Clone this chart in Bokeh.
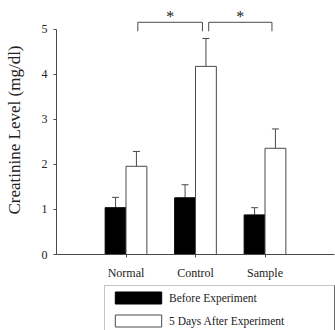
from bokeh.plotting import figure
from bokeh.layouts import column
from bokeh.models import (FactorRange, Range1d, FixedTicker, ColumnDataSource,
                          Whisker, TeeHead, Legend, LegendItem)
from bokeh.transform import dodge
from bokeh.core.properties import value
from bokeh.embed import file_html
from bokeh.resources import INLINE

# Serum creatinine (mg/dl), mean and upper SD per group
groups = ["Normal", "Control", "Sample"]
before = [1.04, 1.26, 0.88]
before_err = [0.23, 0.29, 0.16]
after = [1.96, 4.18, 2.36]
after_err = [0.33, 0.62, 0.43]
series_names = ["Before Experiment", "5 Days After Experiment"]
y_ticks = [0, 1, 2, 3, 4, 5]
# significant differences between groups (5 days after experiment)
sig_pairs = [("Normal", "Control"), ("Control", "Sample")]

FONT = "Liberation Serif"
TEXT = "#222222"
LINE = "#4a4a4a"
BAR_W = 0.3
BEFORE_STYLE = dict(fill_color="black", line_color="black", line_width=1)
AFTER_STYLE = dict(fill_color="white", line_color=LINE, line_width=1)

src = ColumnDataSource(dict(
    groups=groups,
    before=before,
    before_top=[b + e for b, e in zip(before, before_err)],
    after=after,
    after_top=[a + e for a, e in zip(after, after_err)],
))

p = figure(x_range=FactorRange(*groups, range_padding=0.5, range_padding_units="absolute"),
           y_range=Range1d(0, 5.533),
           width=335, height=285, output_backend="svg", toolbar_location=None,
           min_border_left=56, min_border_right=1, min_border_top=5, min_border_bottom=31)
p.outline_line_color = None
p.grid.grid_line_color = None

p.vbar(x=dodge("groups", -BAR_W / 2, range=p.x_range), top="before", width=BAR_W,
       source=src, **BEFORE_STYLE)
p.vbar(x=dodge("groups", BAR_W / 2, range=p.x_range), top="after", width=BAR_W,
       source=src, **AFTER_STYLE)

for off, lo, hi in [(-BAR_W / 2, "before", "before_top"), (BAR_W / 2, "after", "after_top")]:
    p.add_layout(Whisker(source=src, base=dodge("groups", off, range=p.x_range),
                         lower=lo, upper=hi, line_color=LINE, line_width=1,
                         upper_head=TeeHead(size=7, line_color=LINE, line_width=1),
                         lower_head=None))

# significance brackets above the "after" bars
pos = {g: i + 0.5 for i, g in enumerate(groups)}
seg_x0, seg_x1, seg_y0, seg_y1, sx = [], [], [], [], []
for i, (a, b) in enumerate(sig_pairs):
    x0 = pos[a] + BAR_W / 2 + (0.02 if i == 0 else 0.04)
    x1 = pos[b] + BAR_W / 2 - 0.05
    top, end = 5.16, 4.96
    seg_x0 += [x0, x0, x1]; seg_x1 += [x1, x0, x1]
    seg_y0 += [top, top, top]; seg_y1 += [top, end, end]
    sx.append((x0 + x1) / 2)
p.segment(x0=seg_x0, y0=seg_y0, x1=seg_x1, y1=seg_y1, line_color=LINE, line_width=1)
p.text(x=sx, y=[5.10] * len(sx), text=["*"] * len(sx), text_align="center",
       text_baseline="bottom", text_font=value(FONT), text_font_size="16px",
       text_color=TEXT)

# axes
p.yaxis.ticker = FixedTicker(ticks=y_ticks)
p.yaxis.bounds = (0, 5)
p.yaxis.axis_label = "Creatinine Level (mg/dl)"
p.yaxis.axis_label_text_font = FONT
p.yaxis.axis_label_text_font_size = "17px"
p.yaxis.axis_label_text_font_style = "normal"
p.yaxis.axis_label_text_color = TEXT
p.yaxis.axis_label_standoff = 15
p.yaxis.major_label_standoff = 6
p.xaxis.major_label_standoff = 8
for ax in (p.xaxis, p.yaxis):
    ax.axis_line_color = LINE
    ax.major_tick_line_color = LINE
    ax.major_tick_in = 0
    ax.major_tick_out = 3
    ax.minor_tick_line_color = None
    ax.major_label_text_font = FONT
    ax.major_label_text_font_size = "12px"
    ax.major_label_text_color = TEXT

# legend strip under the chart (its key glyphs sit outside the strip's visible range)
leg = figure(width=335, height=45, output_backend="svg", toolbar_location=None,
             x_range=Range1d(0, 1), y_range=Range1d(0, 1),
             x_axis_location=None, y_axis_location=None,
             min_border_left=0, min_border_right=0, min_border_top=0, min_border_bottom=0)
leg.outline_line_color = None
leg.grid.grid_line_color = None
key_src = ColumnDataSource(dict(x=[5], top=[5]))
k_before = leg.vbar(x="x", top="top", width=1, source=key_src, **BEFORE_STYLE)
k_after = leg.vbar(x="x", top="top", width=1, source=key_src, **AFTER_STYLE)
legend = Legend(items=[LegendItem(label=series_names[0], renderers=[k_before]),
                       LegendItem(label=series_names[1], renderers=[k_after])],
                location=(48, -3), orientation="vertical",
                glyph_width=58, glyph_height=15, label_height=14, label_width=165,
                label_standoff=2, spacing=8, padding=4, margin=0,
                label_text_font=FONT, label_text_font_size="11.5px", label_text_color=TEXT,
                border_line_color="#8a8a8a", border_line_width=1,
                background_fill_color="white", background_fill_alpha=1)
leg.add_layout(legend, "center")

open("out.html", "w").write(file_html(column(p, leg, spacing=0), INLINE))
